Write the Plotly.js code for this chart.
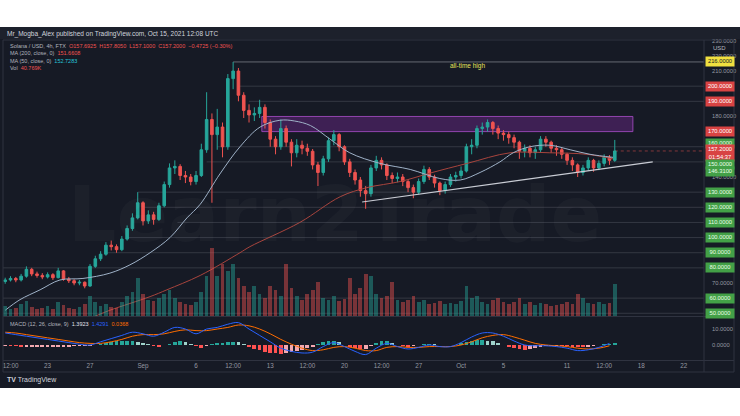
<!DOCTYPE html>
<html><head><meta charset="utf-8">
<script src="https://cdn.plot.ly/plotly-3.0.1.min.js"></script>
<style>html,body{margin:0;padding:0;background:#fff;}#chart{width:740px;height:416px;}</style>
</head><body><div id="chart"></div>
<script>
// ---------- DATA ----------
const candleStart = '2021-08-19T00:00:00Z';   // first 12h candle
const candleOpen = [71,72,73,72,74.5,79,76,75,74,75.5,
73.5,78,72.5,71.5,70,70.5,68,81,86,89,
95,94,92,99,106,113,123,111,115,112,
121,135,146,147,141,140,137,141,158,178,
168,173,160,205,210,194,184,181,182,186,
176,165,160,172,163,156,161,159,157,148,
143,152,164,168,160,150,143,138,131,129,
146,151,148,141,139,140,137,133,130,137,
145,140,136,131,135,140,141,144,160,161,
172,173,176,172,169,168,166,163,157,159,
156,158,165,163,159,158,155,151,148,143,
146,151,146,149,153,151];
const candleHigh = [73.5,74.5,74,76,81,80,77.5,76.5,77,76.5,
80,78.5,74,72.5,72,71,82.5,88,91,97,
98,95.5,101,108,116,130,124,118,117,123,
137,149,151,148.5,144,142,144,162,196,182,
185,176,208,216,212,196,188,186,191,188,
178,167,178,174,165,165,164,162,158.5,150,
154,166,171,169,161,152,145,140,134,148,
154,153,149,143,143,142,138.5,135,139,147.5,
146.5,141.5,137,137,142,143.5,147,162,165,174,
176,178,177,174,171,170,168,164,161.5,161,
160,167,167,164,161,159.5,156,153,149,148,
153,152,151,155,154.5,164.5];
const candleLow = [69.5,71,70.5,71,73.5,74.5,73.5,72.5,73,72,
73,71.5,70,68.5,68.5,66.5,67.5,80,84.5,88,
91.5,90,91,98,104.5,112,108,109,108.5,111,
120,133,142,138,136,134.5,135,140,156,123,
158,153,158,198,190,179,176,177,179,172,
160,155,158,160,147,153,155,154,145,134,
141,150,161,157,148,140,135,127,119,127,
144,145,138,136,136.5,134,130,126,128.5,135.5,
138,133,128,129,133.5,137,139,143,155,159,
168,170,168,165,164,162,159,152,153,153,
152,156,160,156,154,152,148,144,140,141,
144,143.5,144.5,147,148,150];
const candleClose = [72,73,72,74.5,79,76,75,74,75.5,73.5,
78,72.5,71.5,70,70.5,68,81,86,89,95,
94,92,99,106,113,123,111,115,112,121,
135,146,147,141,140,137,141,158,178,168,
173,160,205,210,194,184,181,182,186,176,
165,160,172,163,156,161,159,157,148,143,
152,164,168,160,150,143,138,131,129,146,
151,148,141,139,140,137,133,130,137,145,
140,136,131,135,140,141,144,160,161,172,
173,176,172,169,168,166,163,157,159,156,
158,165,163,159,158,155,151,148,143,146,
151,146,149,153,151,157.2];
const volumeK = [10,7,8,12,15,9,7,8,10,7,
14,11,8,7,9,12,20,14,10,12,
9,8,14,20,24,38,22,16,15,18,
22,26,18,14,12,11,14,24,40,68,
40,52,45,52,38,30,24,30,22,18,
30,26,20,52,28,20,16,22,26,34,
18,16,20,15,17,38,22,28,42,40,
22,18,20,34,16,14,16,20,14,16,
12,13,15,12,13,12,15,30,18,20,
14,12,16,18,14,12,14,18,12,14,
11,13,12,10,11,12,14,12,22,18,
13,12,14,12,13,32];
const macdHist = [-0.4,-0.6,-0.8,-1,-1,-1,-1,-1,-1,-1,-1,-1,-1,-0.8,-0.8,-0.6,-0.4,0.2,0.8,1.4,
1.8,2.2,2.4,2.6,2.6,2,1.2,0.4,-0.4,-1,-0.2,0.8,1.8,2.6,1.6,0.6,-0.8,-1.8,-0.6,0.8,
1,1.2,1.6,2,1.8,0.6,-1,-2.4,-3.4,-4.2,-4.8,-5.2,-5.4,-5.2,-4.6,-3.8,-3,-2,-1,0.4,
1.6,2.6,2.8,1.6,0.2,-1.2,-2,-2.4,-2.4,-0.6,1,2.2,2.4,1.2,0,-0.6,-1,-0.6,
-0.2,0.4,0.8,0.6,0.2,-0.2,-0.2,0.2,1,1.8,2.6,3,3.2,2.8,2.2,1.2,-0.2,-1.2,
-2,-2.6,-3,-2.6,-2,-1.2,-0.6,-0.4,-0.4,-0.6,-0.8,-1,-1.2,-1.4,-1.2,-0.6,-0.2,0.4,
0.8,1.2];
const macdDayStart = '2021-08-19T00:00:00Z';  // daily MACD samples
const macdLine = [7.5,6.5,5.5,4.5,3.5,2.5,1.5,0.5,0,2,
4,6,8,7,5.5,8,11,10,7,10,
11,13,14,10,6,2,-2,-4,-5,-4.5,
-1,1.5,-1,-4,-6,-2,1,-1,-2.5,-1.5,
0,-1,-1,1.5,5,7.5,7.5,5.5,2.5,0,
-0.5,-0.5,-1,-2,-3.5,-3,-1.5,1];
const macdSignal = [8,7.5,6.5,5.5,4.5,3.5,2.5,1.5,1,1,
2,3.5,5.5,6.5,6.5,7,8.5,9.5,9,9,
10,11,12.5,12,10,7,3.5,0.5,-2,-3.5,
-3,-1.5,-1,-2,-3.5,-3.5,-1.5,-1,-1.5,-1.5,
-1,-1,-1,0,2,4.5,6,6.5,5,3,
1,0,-0.5,-1,-2,-2.5,-2,-0.5];
const ma50Dates = ['2021-08-19 00:00','2021-08-20 09:30','2021-08-22 07:00','2021-08-24 04:00','2021-08-26 08:00','2021-08-28 21:00','2021-08-30 18:30','2021-09-01 16:00','2021-09-03 13:00','2021-09-05 03:30','2021-09-06 09:30','2021-09-08 06:00','2021-09-10 03:30','2021-09-12 01:00','2021-09-13 22:00','2021-09-15 07:00','2021-09-16 19:00','2021-09-18 15:30','2021-09-20 12:00','2021-09-23 08:30','2021-09-26 05:00','2021-09-29 00:00','2021-09-30 22:00','2021-10-02 19:00','2021-10-04 16:00','2021-10-05 22:00','2021-10-07 12:00','2021-10-09 09:00','2021-10-11 07:00','2021-10-13 04:00','2021-10-15 08:00'];
const ma50Values = [52,59,65.5,72,73,76.5,82,90,100,113,122,142,160,173,177.5,177,174,165,156,149,145,139,138,143,150,156,160,161,158,155,153];
const ma200Dates = ['2021-08-27 11:00','2021-08-28 21:00','2021-09-01 16:00','2021-09-03 06:00','2021-09-06 09:30','2021-09-10 03:30','2021-09-11 02:00','2021-09-15 19:00','2021-09-19 14:30','2021-09-22 03:00','2021-09-25 06:00','2021-09-28 02:00','2021-10-01 14:00','2021-10-05 15:00','2021-10-09 09:00','2021-10-12 21:00','2021-10-15 08:00'];
const ma200Values = [48,52,61,65.5,75,90,94,110,127,133,137,142.6,149,156,156,155,152];
const trendDates = ['2021-09-21 16:00','2021-10-19 02:00'];
const trendPrices = [123.5,150];
const levelPrices = [216,200,190,160,150,130,120,110,100,90,80,60,50];
const levelStarts = ['2021-09-09 12:00','2021-09-10 00:00','2021-09-11 00:00','2021-09-08 00:00','2021-09-07 00:00','2021-08-31 12:00','2021-09-01 00:00','2021-09-04 06:00','2021-08-30 12:00','2021-08-28 12:00','2021-08-18 19:00','2021-08-18 19:00','2021-08-18 19:00'];
const zonePrices = [170,180];
const zoneDates = ['2021-09-12 05:00','2021-10-17 05:00'];
const labelPrices = [216,200,190,170,160,157.2,150,146.31,130,120,110,100,90,80,60,50];
const labelKinds = ['ath','res','res','res','sup','last','sup','sup','sup','sup','sup','sup','sup','sup','sup','sup'];
const priceTicks = [230,220,210,180,140,70];
const macdTicks = [10,0];
const xTickDates = ['2021-08-19 12:00','2021-08-23','2021-08-27','2021-09-01','2021-09-06','2021-09-09 12:00','2021-09-13','2021-09-16 12:00','2021-09-20','2021-09-23 12:00','2021-09-27','2021-10-01','2021-10-05','2021-10-11','2021-10-14 12:00','2021-10-18','2021-10-22'];
const xTickLabels = ['12:00','23','27','Sep','6','12:00','13','12:00','20','12:00','27','Oct','5','11','12:00','18','22'];
const lastPrice = 157.2;

// ---------- helpers ----------
const W=740,H=416,ML=3,MR=36,MT=40,MB=56;
const PW=W-ML-MR, PH=H-MT-MB;
const fx = x => (x-ML)/PW;
const fy = y => (H-MB-y)/PH;
const HOUR = 3600*1000;
const fmt = ms => new Date(ms).toISOString().slice(0,16).replace('T',' ');
const c0 = Date.parse(candleStart);
const candleDates = candleClose.map((_,i)=>fmt(c0+i*12*HOUR));
const m0 = Date.parse(macdDayStart);
const macdDates = macdLine.map((_,i)=>fmt(m0+i*24*HOUR));
const xRange = ['2021-08-18 19:00','2021-10-23 22:00'];
const FONT = '"Liberation Sans", Arial, sans-serif';

const UP='#26a69a', DN='#ef5350';
const volColors = candleClose.map((c,i)=> c>=candleOpen[i] ? 'rgba(38,166,154,0.45)' : 'rgba(239,83,80,0.45)');
const histColors = macdHist.map((v,i)=>{
  const p = i>0 ? macdHist[i-1] : v;
  if (v>=0) return v>=p ? '#26a69a' : '#9fd3cc';
  return v<p ? '#ff5252' : '#f4a9b0';
});

const traces = [
  {type:'scatter',mode:'lines',x:trendDates,y:trendPrices,xaxis:'x',yaxis:'y',
   line:{color:'#c9ccd4',width:1.1},hoverinfo:'skip'},
  {type:'scatter',mode:'lines',x:ma200Dates,y:ma200Values,xaxis:'x',yaxis:'y',
   line:{color:'#a8443d',width:1,shape:'spline'},hoverinfo:'skip'},
  {type:'scatter',mode:'lines',x:ma50Dates,y:ma50Values,xaxis:'x',yaxis:'y',
   line:{color:'#9fb2c8',width:1,shape:'spline'},hoverinfo:'skip'},
  {type:'candlestick',x:candleDates,open:candleOpen,high:candleHigh,low:candleLow,close:candleClose,
   xaxis:'x',yaxis:'y',whiskerwidth:0,
   increasing:{line:{color:UP,width:1},fillcolor:UP},
   decreasing:{line:{color:DN,width:1},fillcolor:DN},hoverinfo:'skip'},
  {type:'bar',x:candleDates,y:volumeK,xaxis:'x',yaxis:'y3',width:12*HOUR*0.7,
   marker:{color:volColors,line:{width:0}},hoverinfo:'skip'},
  {type:'bar',x:candleDates,y:macdHist,xaxis:'x2',yaxis:'y2',width:12*HOUR*0.7,
   marker:{color:histColors,line:{width:0}},hoverinfo:'skip'},
  {type:'scatter',mode:'lines',x:macdDates,y:macdSignal,xaxis:'x2',yaxis:'y2',
   line:{color:'#ff6d00',width:1,shape:'spline'},hoverinfo:'skip'},
  {type:'scatter',mode:'lines',x:macdDates,y:macdLine,xaxis:'x2',yaxis:'y2',
   line:{color:'#2962ff',width:1,shape:'spline'},hoverinfo:'skip'}
];

const shapes = [
  {type:'rect',xref:'paper',yref:'paper',x0:fx(-5),x1:fx(745),y0:fy(388),y1:fy(27),
   fillcolor:'#161a25',line:{width:0},layer:'below'},
  {type:'rect',xref:'paper',yref:'paper',x0:fx(-5),x1:fx(745),y0:fy(39),y1:fy(27),
   fillcolor:'#1d212c',line:{width:0},layer:'below'},
  {type:'line',xref:'paper',yref:'paper',x0:fx(3),x1:fx(734),y0:fy(316.5),y1:fy(316.5),line:{color:'#2f3340',width:1}},
  {type:'line',xref:'paper',yref:'paper',x0:fx(3),x1:fx(734),y0:fy(360.5),y1:fy(360.5),line:{color:'#2f3340',width:1}},
  {type:'line',xref:'paper',yref:'paper',x0:fx(3),x1:fx(734),y0:fy(372),y1:fy(372),line:{color:'#2f3340',width:1}},
  {type:'line',xref:'paper',yref:'paper',x0:fx(3),x1:fx(734),y0:fy(40),y1:fy(40),line:{color:'#2f3340',width:1}},
  {type:'line',xref:'paper',yref:'paper',x0:fx(704),x1:fx(704),y0:fy(372),y1:fy(40),line:{color:'#2f3340',width:1}},
  {type:'line',xref:'paper',yref:'paper',x0:fx(734),x1:fx(734),y0:fy(372),y1:fy(40),line:{color:'#2f3340',width:1}},
  {type:'line',xref:'paper',yref:'paper',x0:fx(3),x1:fx(3),y0:fy(372),y1:fy(40),line:{color:'#2f3340',width:1}}
];
levelPrices.forEach((p,i)=>{
  shapes.push({type:'line',xref:'x',yref:'y',x0:levelStarts[i],x1:xRange[1],y0:p,y1:p,layer:'below',
    line:{color: i===0 ? 'rgba(200,202,210,0.45)' : 'rgba(160,164,175,0.22)',width:1}});
});
shapes.push({type:'rect',xref:'x',yref:'y',x0:zoneDates[0],x1:zoneDates[1],y0:zonePrices[0],y1:zonePrices[1],
  fillcolor:'rgba(120,40,150,0.42)',line:{color:'rgba(165,75,195,0.85)',width:1},layer:'below'});
shapes.push({type:'line',xref:'x',yref:'y',x0:candleDates[candleDates.length-1],x1:xRange[1],y0:lastPrice,y1:lastPrice,
  line:{color:'rgba(239,83,80,0.5)',width:1,dash:'dot'},layer:'below'});

const annotations = [
  {xref:'paper',yref:'paper',x:fx(335),y:fy(214),text:'<b>Learn2Trade</b>',showarrow:false,
   font:{family:'DejaVu Sans',size:76,color:'rgba(255,255,255,0.028)'}},
  {xref:'paper',yref:'paper',x:fx(5),y:fy(33.5),xanchor:'left',yanchor:'middle',showarrow:false,
   text:'Mr_Mogba_Alex published on TradingView.com, Oct 15, 2021 12:08 UTC',font:{family:FONT,size:6.5,color:'#d1d4dc'}},
  {xref:'paper',yref:'paper',x:fx(8),y:fy(45.5),xanchor:'left',yanchor:'middle',showarrow:false,
   text:'Solana / USD, 4h, FTX  <span style="color:#ef5350">O157.6925  H157.8050  L157.1000  C157.2000  −0.4725 (−0.30%)</span>',
   font:{family:FONT,size:5.5,color:'#b2b5be'}},
  {xref:'paper',yref:'paper',x:fx(8),y:fy(53),xanchor:'left',yanchor:'middle',showarrow:false,
   text:'MA (200, close, 0)  <span style="color:#ef5350">151.6608</span>',font:{family:FONT,size:5.5,color:'#b2b5be'}},
  {xref:'paper',yref:'paper',x:fx(8),y:fy(60.5),xanchor:'left',yanchor:'middle',showarrow:false,
   text:'MA (50, close, 0)  <span style="color:#26c6da">152.7283</span>',font:{family:FONT,size:5.5,color:'#b2b5be'}},
  {xref:'paper',yref:'paper',x:fx(8),y:fy(68),xanchor:'left',yanchor:'middle',showarrow:false,
   text:'Vol  <span style="color:#ef5350">40.769K</span>',font:{family:FONT,size:5.5,color:'#b2b5be'}},
  {xref:'paper',yref:'paper',x:fx(8),y:fy(323.5),xanchor:'left',yanchor:'middle',showarrow:false,
   text:'MACD (12, 26, close, 9)  <span style="color:#e0e3eb">1.3923</span>  <span style="color:#2962ff">1.4291</span>  <span style="color:#ff6d00">0.0368</span>',
   font:{family:FONT,size:5.5,color:'#b2b5be'}},
  {xref:'paper',yref:'paper',x:fx(719),y:fy(47.5),xanchor:'center',yanchor:'middle',showarrow:false,
   text:'USD',font:{family:FONT,size:6,color:'#b2b5be'}},
  {xref:'x',yref:'y',x:'2021-10-01 14:00',y:213.5,showarrow:false,text:'all-time high',
   font:{family:FONT,size:6.5,color:'#e6e35a'}},
  {xref:'paper',yref:'paper',x:fx(5),y:fy(380),xanchor:'left',yanchor:'middle',showarrow:false,
   text:'<b>TV</b> TradingView',font:{family:FONT,size:7,color:'#d1d4dc'}}
];
const kindStyle = {ath:{bg:'#f0e040',fg:'#131722'},res:{bg:'#d84343',fg:'#ffffff'},
  sup:{bg:'#43a047',fg:'#e8ffe8'},last:{bg:'#d84343',fg:'#ffffff'}};
const labelShift = {160:3, 157.2:-2, 150:-2.5, 146.31:-4.5};
labelPrices.forEach((p,i)=>{
  const st = kindStyle[labelKinds[i]];
  const isLast = labelKinds[i]==='last';
  annotations.push({xref:'paper',yref:'y',x:1,y:p,xanchor:'left',yanchor:'middle',xshift:1,
    yshift:labelShift[p]||0,showarrow:false,
    text: p.toFixed(4) + (isLast ? '<br>01:54:37' : ''),
    bgcolor:st.bg,font:{family:FONT,size:5.8,color:st.fg},
    width:27,height:isLast?15:7.5,borderpad:0.5,align:'center'});
});

const layout = {
  width:W,height:H,margin:{l:ML,r:MR,t:MT,b:MB},
  paper_bgcolor:'#ffffff',plot_bgcolor:'rgba(0,0,0,0)',
  showlegend:false,hovermode:false,bargap:0,
  xaxis:{domain:[0,1],anchor:'y',type:'date',range:xRange,showticklabels:false,
    showgrid:false,zeroline:false,showline:false,ticks:'',rangeslider:{visible:false}},
  xaxis2:{domain:[0,1],anchor:'y2',type:'date',matches:'x',range:xRange,
    tickvals:xTickDates,ticktext:xTickLabels,tickfont:{family:FONT,size:6.3,color:'#9598a1'},
    showgrid:false,zeroline:false,showline:false,ticks:'',ticklabelstandoff:1},
  yaxis:{domain:[fy(316),1],anchor:'x',range:[48.2,230.5],side:'right',
    tickvals:priceTicks,ticktext:priceTicks.map(v=>v.toFixed(4)),
    tickfont:{family:FONT,size:5.8,color:'#9598a1'},ticklabelstandoff:7,
    showgrid:false,zeroline:false,showline:false,ticks:''},
  yaxis3:{overlaying:'y',anchor:'x',range:[0,276],visible:false,showgrid:false,zeroline:false},
  yaxis2:{domain:[0,fy(318)],anchor:'x2',range:[-9.4,16.9],side:'right',
    tickvals:macdTicks,ticktext:macdTicks.map(v=>v.toFixed(4)),
    tickfont:{family:FONT,size:5.8,color:'#9598a1'},ticklabelstandoff:7,
    showgrid:false,zeroline:false,showline:false,ticks:''},
  shapes:shapes,annotations:annotations
};
Plotly.newPlot('chart',traces,layout,{displayModeBar:false,staticPlot:true});
</script></body></html>
